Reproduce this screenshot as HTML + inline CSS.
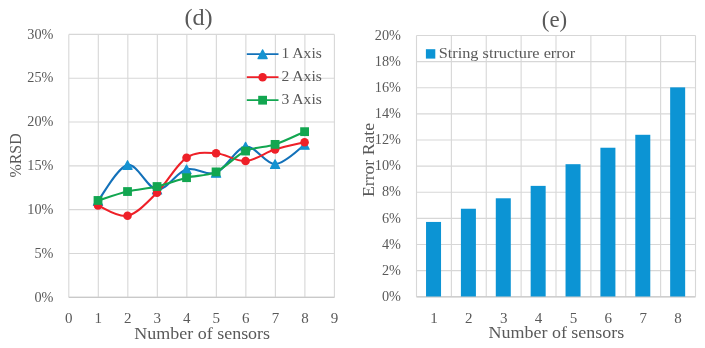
<!DOCTYPE html>
<html><head><meta charset="utf-8"><title>charts</title>
<style>html,body{margin:0;padding:0;background:#fff}svg{display:block}</style></head>
<body>
<svg width="705" height="348" viewBox="0 0 705 348" font-family='"Liberation Serif", serif' fill="#595959">
<rect width="705" height="348" fill="#fff"/>
<g stroke="#d7d7d7" stroke-width="1.1" fill="none">
<line x1="68.80" y1="34.4" x2="68.80" y2="297.3"/>
<line x1="98.31" y1="34.4" x2="98.31" y2="297.3"/>
<line x1="127.82" y1="34.4" x2="127.82" y2="297.3"/>
<line x1="157.33" y1="34.4" x2="157.33" y2="297.3"/>
<line x1="186.84" y1="34.4" x2="186.84" y2="297.3"/>
<line x1="216.36" y1="34.4" x2="216.36" y2="297.3"/>
<line x1="245.87" y1="34.4" x2="245.87" y2="297.3"/>
<line x1="275.38" y1="34.4" x2="275.38" y2="297.3"/>
<line x1="304.89" y1="34.4" x2="304.89" y2="297.3"/>
<line x1="334.40" y1="34.4" x2="334.40" y2="297.3"/>
<line x1="68.8" y1="34.40" x2="334.4" y2="34.40"/>
<line x1="68.8" y1="78.22" x2="334.4" y2="78.22"/>
<line x1="68.8" y1="122.03" x2="334.4" y2="122.03"/>
<line x1="68.8" y1="165.85" x2="334.4" y2="165.85"/>
<line x1="68.8" y1="209.67" x2="334.4" y2="209.67"/>
<line x1="68.8" y1="253.48" x2="334.4" y2="253.48"/>
<line x1="68.8" y1="297.30" x2="334.4" y2="297.30"/>
</g>
<line x1="68.8" y1="297.3" x2="334.4" y2="297.3" stroke="#c9c9c9" stroke-width="1.2"/>
<text x="53.4" y="38.60" font-size="15" text-anchor="end" textLength="26.1" lengthAdjust="spacingAndGlyphs">30%</text>
<text x="53.4" y="82.42" font-size="15" text-anchor="end" textLength="26.1" lengthAdjust="spacingAndGlyphs">25%</text>
<text x="53.4" y="126.23" font-size="15" text-anchor="end" textLength="26.1" lengthAdjust="spacingAndGlyphs">20%</text>
<text x="53.4" y="170.05" font-size="15" text-anchor="end" textLength="26.1" lengthAdjust="spacingAndGlyphs">15%</text>
<text x="53.4" y="213.87" font-size="15" text-anchor="end" textLength="26.1" lengthAdjust="spacingAndGlyphs">10%</text>
<text x="53.4" y="257.68" font-size="15" text-anchor="end" textLength="19.0" lengthAdjust="spacingAndGlyphs">5%</text>
<text x="53.4" y="301.50" font-size="15" text-anchor="end" textLength="19.0" lengthAdjust="spacingAndGlyphs">0%</text>
<text x="68.80" y="322.8" font-size="15" text-anchor="middle">0</text>
<text x="98.31" y="322.8" font-size="15" text-anchor="middle">1</text>
<text x="127.82" y="322.8" font-size="15" text-anchor="middle">2</text>
<text x="157.33" y="322.8" font-size="15" text-anchor="middle">3</text>
<text x="186.84" y="322.8" font-size="15" text-anchor="middle">4</text>
<text x="216.36" y="322.8" font-size="15" text-anchor="middle">5</text>
<text x="245.87" y="322.8" font-size="15" text-anchor="middle">6</text>
<text x="275.38" y="322.8" font-size="15" text-anchor="middle">7</text>
<text x="304.89" y="322.8" font-size="15" text-anchor="middle">8</text>
<text x="334.40" y="322.8" font-size="15" text-anchor="middle">9</text>
<text x="198.5" y="24.7" font-size="23.5" text-anchor="middle" textLength="28.2" lengthAdjust="spacingAndGlyphs">(d)</text>
<text x="202.2" y="338.7" font-size="17.5" text-anchor="middle" textLength="135.8" lengthAdjust="spacingAndGlyphs">Number of sensors</text>
<text transform="translate(21.3,155.4) rotate(-90)" font-size="17.5" text-anchor="middle" textLength="44" lengthAdjust="spacingAndGlyphs">%RSD</text>
<path d="M98.01,200.90 C102.93,194.92 117.69,166.87 127.52,164.97 C137.36,163.07 147.20,188.78 157.03,189.51 C166.87,190.24 176.71,172.13 186.54,169.36 C196.38,166.58 206.22,176.66 216.06,172.86 C225.89,169.06 235.73,148.03 245.57,146.57 C255.40,145.11 265.24,164.39 275.08,164.10 C284.91,163.81 299.67,148.03 304.59,144.82" fill="none" stroke="#1371b9" stroke-width="2.1" stroke-linecap="round" stroke-linejoin="round"/>
<polygon points="98.01,196.60 93.41,205.30 102.61,205.30" fill="#1593d1" stroke="#1593d1" stroke-width="1.2" stroke-linejoin="round"/>
<polygon points="127.52,160.67 122.92,169.37 132.12,169.37" fill="#1593d1" stroke="#1593d1" stroke-width="1.2" stroke-linejoin="round"/>
<polygon points="157.03,185.21 152.43,193.91 161.63,193.91" fill="#1593d1" stroke="#1593d1" stroke-width="1.2" stroke-linejoin="round"/>
<polygon points="186.54,165.06 181.94,173.76 191.14,173.76" fill="#1593d1" stroke="#1593d1" stroke-width="1.2" stroke-linejoin="round"/>
<polygon points="216.06,168.56 211.46,177.26 220.66,177.26" fill="#1593d1" stroke="#1593d1" stroke-width="1.2" stroke-linejoin="round"/>
<polygon points="245.57,142.27 240.97,150.97 250.17,150.97" fill="#1593d1" stroke="#1593d1" stroke-width="1.2" stroke-linejoin="round"/>
<polygon points="275.08,159.80 270.48,168.50 279.68,168.50" fill="#1593d1" stroke="#1593d1" stroke-width="1.2" stroke-linejoin="round"/>
<polygon points="304.59,140.52 299.99,149.22 309.19,149.22" fill="#1593d1" stroke="#1593d1" stroke-width="1.2" stroke-linejoin="round"/>
<path d="M98.01,205.55 C102.93,207.24 117.69,217.86 127.52,215.71 C137.36,213.57 147.20,202.33 157.03,192.67 C166.87,183.00 176.71,164.27 186.54,157.70 C196.38,151.13 206.22,152.68 216.06,153.23 C225.89,153.79 235.73,161.67 245.57,161.03 C255.40,160.39 265.24,152.52 275.08,149.37 C284.91,146.23 299.67,143.39 304.59,142.19" fill="none" stroke="#ee2028" stroke-width="2.1" stroke-linecap="round" stroke-linejoin="round"/>
<circle cx="98.01" cy="205.55" r="4.3" fill="#ee2028"/>
<circle cx="127.52" cy="215.71" r="4.3" fill="#ee2028"/>
<circle cx="157.03" cy="192.67" r="4.3" fill="#ee2028"/>
<circle cx="186.54" cy="157.70" r="4.3" fill="#ee2028"/>
<circle cx="216.06" cy="153.23" r="4.3" fill="#ee2028"/>
<circle cx="245.57" cy="161.03" r="4.3" fill="#ee2028"/>
<circle cx="275.08" cy="149.37" r="4.3" fill="#ee2028"/>
<circle cx="304.59" cy="142.19" r="4.3" fill="#ee2028"/>
<path d="M98.01,200.47 C102.93,198.98 117.69,193.85 127.52,191.53 C137.36,189.20 147.20,188.84 157.03,186.53 C166.87,184.22 176.71,180.12 186.54,177.68 C196.38,175.24 206.22,176.34 216.06,171.90 C225.89,167.46 235.73,155.63 245.57,151.04 C255.40,146.45 265.24,147.61 275.08,144.38 C284.91,141.15 299.67,133.79 304.59,131.67" fill="none" stroke="#12a650" stroke-width="2.1" stroke-linecap="round" stroke-linejoin="round"/>
<rect x="93.61" y="196.07" width="8.8" height="8.8" fill="#12a650"/>
<rect x="123.12" y="187.13" width="8.8" height="8.8" fill="#12a650"/>
<rect x="152.63" y="182.13" width="8.8" height="8.8" fill="#12a650"/>
<rect x="182.14" y="173.28" width="8.8" height="8.8" fill="#12a650"/>
<rect x="211.66" y="167.50" width="8.8" height="8.8" fill="#12a650"/>
<rect x="241.17" y="146.64" width="8.8" height="8.8" fill="#12a650"/>
<rect x="270.68" y="139.98" width="8.8" height="8.8" fill="#12a650"/>
<rect x="300.19" y="127.27" width="8.8" height="8.8" fill="#12a650"/>
<line x1="246.8" y1="54.2" x2="278.5" y2="54.2" stroke="#1371b9" stroke-width="1.8"/>
<polygon points="262.60,49.90 258.00,58.60 267.20,58.60" fill="#1593d1" stroke="#1593d1" stroke-width="1.2" stroke-linejoin="round"/>
<text x="281.5" y="57.60" font-size="15" text-anchor="start" textLength="40.3" lengthAdjust="spacingAndGlyphs">1 Axis</text>
<line x1="246.8" y1="77.2" x2="278.5" y2="77.2" stroke="#ee2028" stroke-width="1.8"/>
<circle cx="262.60" cy="77.20" r="4.3" fill="#ee2028"/>
<text x="281.5" y="80.60" font-size="15" text-anchor="start" textLength="40.3" lengthAdjust="spacingAndGlyphs">2 Axis</text>
<line x1="246.8" y1="100.2" x2="278.5" y2="100.2" stroke="#12a650" stroke-width="1.8"/>
<rect x="258.20" y="95.80" width="8.8" height="8.8" fill="#12a650"/>
<text x="281.5" y="103.60" font-size="15" text-anchor="start" textLength="40.3" lengthAdjust="spacingAndGlyphs">3 Axis</text>
<g stroke="#d7d7d7" stroke-width="1.1" fill="none">
<line x1="416.50" y1="35.5" x2="416.50" y2="296.8"/>
<line x1="451.38" y1="35.5" x2="451.38" y2="296.8"/>
<line x1="486.25" y1="35.5" x2="486.25" y2="296.8"/>
<line x1="521.12" y1="35.5" x2="521.12" y2="296.8"/>
<line x1="556.00" y1="35.5" x2="556.00" y2="296.8"/>
<line x1="590.88" y1="35.5" x2="590.88" y2="296.8"/>
<line x1="625.75" y1="35.5" x2="625.75" y2="296.8"/>
<line x1="660.62" y1="35.5" x2="660.62" y2="296.8"/>
<line x1="695.50" y1="35.5" x2="695.50" y2="296.8"/>
<line x1="416.5" y1="35.50" x2="695.5" y2="35.50"/>
<line x1="416.5" y1="61.63" x2="695.5" y2="61.63"/>
<line x1="416.5" y1="87.76" x2="695.5" y2="87.76"/>
<line x1="416.5" y1="113.89" x2="695.5" y2="113.89"/>
<line x1="416.5" y1="140.02" x2="695.5" y2="140.02"/>
<line x1="416.5" y1="166.15" x2="695.5" y2="166.15"/>
<line x1="416.5" y1="192.28" x2="695.5" y2="192.28"/>
<line x1="416.5" y1="218.41" x2="695.5" y2="218.41"/>
<line x1="416.5" y1="244.54" x2="695.5" y2="244.54"/>
<line x1="416.5" y1="270.67" x2="695.5" y2="270.67"/>
<line x1="416.5" y1="296.80" x2="695.5" y2="296.80"/>
</g>
<line x1="416.5" y1="296.8" x2="695.5" y2="296.8" stroke="#c9c9c9" stroke-width="1.2"/>
<text x="400.9" y="39.70" font-size="15" text-anchor="end" textLength="26.1" lengthAdjust="spacingAndGlyphs">20%</text>
<text x="400.9" y="65.83" font-size="15" text-anchor="end" textLength="26.1" lengthAdjust="spacingAndGlyphs">18%</text>
<text x="400.9" y="91.96" font-size="15" text-anchor="end" textLength="26.1" lengthAdjust="spacingAndGlyphs">16%</text>
<text x="400.9" y="118.09" font-size="15" text-anchor="end" textLength="26.1" lengthAdjust="spacingAndGlyphs">14%</text>
<text x="400.9" y="144.22" font-size="15" text-anchor="end" textLength="26.1" lengthAdjust="spacingAndGlyphs">12%</text>
<text x="400.9" y="170.35" font-size="15" text-anchor="end" textLength="26.1" lengthAdjust="spacingAndGlyphs">10%</text>
<text x="400.9" y="196.48" font-size="15" text-anchor="end" textLength="19.0" lengthAdjust="spacingAndGlyphs">8%</text>
<text x="400.9" y="222.61" font-size="15" text-anchor="end" textLength="19.0" lengthAdjust="spacingAndGlyphs">6%</text>
<text x="400.9" y="248.74" font-size="15" text-anchor="end" textLength="19.0" lengthAdjust="spacingAndGlyphs">4%</text>
<text x="400.9" y="274.87" font-size="15" text-anchor="end" textLength="19.0" lengthAdjust="spacingAndGlyphs">2%</text>
<text x="400.9" y="301.00" font-size="15" text-anchor="end" textLength="19.0" lengthAdjust="spacingAndGlyphs">0%</text>
<rect x="426.04" y="221.94" width="15" height="74.56" fill="#0c94d4"/>
<text x="433.94" y="322.6" font-size="15" text-anchor="middle">1</text>
<rect x="460.91" y="208.74" width="15" height="87.76" fill="#0c94d4"/>
<text x="468.81" y="322.6" font-size="15" text-anchor="middle">2</text>
<rect x="495.79" y="198.29" width="15" height="98.21" fill="#0c94d4"/>
<text x="503.69" y="322.6" font-size="15" text-anchor="middle">3</text>
<rect x="530.66" y="185.88" width="15" height="110.62" fill="#0c94d4"/>
<text x="538.56" y="322.6" font-size="15" text-anchor="middle">4</text>
<rect x="565.54" y="164.19" width="15" height="132.31" fill="#0c94d4"/>
<text x="573.44" y="322.6" font-size="15" text-anchor="middle">5</text>
<rect x="600.41" y="147.73" width="15" height="148.77" fill="#0c94d4"/>
<text x="608.31" y="322.6" font-size="15" text-anchor="middle">6</text>
<rect x="635.29" y="134.79" width="15" height="161.71" fill="#0c94d4"/>
<text x="643.19" y="322.6" font-size="15" text-anchor="middle">7</text>
<rect x="670.16" y="87.37" width="15" height="209.13" fill="#0c94d4"/>
<text x="678.06" y="322.6" font-size="15" text-anchor="middle">8</text>
<rect x="425.9" y="49.2" width="9.4" height="9.4" fill="#0c94d4"/>
<text x="438.7" y="58" font-size="15" text-anchor="start" textLength="136.6" lengthAdjust="spacingAndGlyphs">String structure error</text>
<text x="554.5" y="26.7" font-size="23.5" text-anchor="middle" textLength="25.4" lengthAdjust="spacingAndGlyphs">(e)</text>
<text x="556.4" y="337.8" font-size="17.5" text-anchor="middle" textLength="135.8" lengthAdjust="spacingAndGlyphs">Number of sensors</text>
<text transform="translate(373.7,160) rotate(-90)" font-size="17.5" text-anchor="middle" textLength="74" lengthAdjust="spacingAndGlyphs">Error Rate</text>
</svg>
</body></html>
